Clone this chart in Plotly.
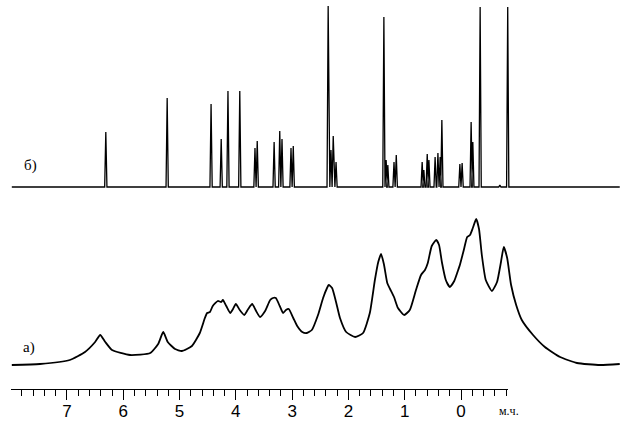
import plotly.graph_objects as go

a_ppm = [7.98, 7.48, 6.95, 6.68, 6.50, 6.41, 6.32, 6.20, 5.88, 5.52, 5.38, 5.29, 5.21, 5.08,
         4.96, 4.78, 4.64, 4.55, 4.51, 4.46, 4.41, 4.32, 4.26, 4.23, 4.17, 4.10, 4.05, 4.00,
         3.93, 3.85, 3.78, 3.71, 3.64, 3.57, 3.48, 3.39, 3.34, 3.29, 3.22, 3.16, 3.11, 3.06,
         2.98, 2.91, 2.82, 2.74, 2.65, 2.54, 2.45, 2.38, 2.35, 2.29, 2.22, 2.15, 2.04, 1.88,
         1.74, 1.62, 1.53, 1.47, 1.42, 1.37, 1.31, 1.26, 1.19, 1.12, 1.01, 0.91, 0.80, 0.71,
         0.64, 0.59, 0.52, 0.44, 0.39, 0.34, 0.27, 0.20, 0.12, 0.05, 0.02, -0.05, -0.11,
         -0.16, -0.21, -0.27, -0.32, -0.37, -0.44, -0.55, -0.64, -0.71, -0.76, -0.82, -0.89,
         -0.98, -1.08, -1.28, -1.49, -1.76, -2.06, -2.47, -2.82]
a_int = [0, 1, 5, 13, 23, 30, 23, 15, 10, 12, 21, 33, 23, 16,
         14, 19, 32, 47, 52, 53, 59, 64, 63, 65, 59, 52, 56, 61,
         55, 50, 56, 61, 54, 48, 54, 65, 67, 67, 59, 52, 55, 56,
         47, 39, 33, 32, 35, 50, 67, 77, 80, 77, 63, 47, 33, 28,
         32, 52, 85, 103, 111, 101, 82, 76, 68, 57, 50, 55, 75, 90,
         95, 102, 119, 125, 120, 103, 85, 78, 84, 95, 100, 115, 128,
         130, 137, 146, 136, 110, 85, 74, 83, 103, 118, 107, 80,
         60, 45, 30, 18, 8, 2, 0, 1]

# ---- spectrum (б): resolved lines (ppm, relative intensity) ----
b_ppm = [6.31, 5.22, 4.44, 4.26, 4.14, 3.93, 3.66, 3.62, 3.32, 3.22, 3.18, 3.02, 2.98,
         2.36, 2.31, 2.27, 2.22, 1.37, 1.33, 1.30, 1.19, 1.15, 0.69, 0.66, 0.60, 0.57,
         0.46, 0.41, 0.37, 0.34, 0.02, -0.02, -0.18, -0.21, -0.34, -0.69, -0.83]
b_int = [55, 89, 83, 48, 96, 96, 39, 46, 45, 56, 48, 39, 41,
         181, 37, 51, 25, 170, 27, 22, 25, 32, 25, 17, 33, 27,
         30, 34, 30, 67, 23, 24, 65, 45, 180, 2, 180]
b_limits = [7.98, -2.82]

# ---- axis ----
major_ticks = [7, 6, 5, 4, 3, 2, 1, 0]
major_labels = ["7", "6", "5", "4", "3", "2", "1", "0"]
minor_ticks = [round(7.8 - 0.2 * i, 1) for i in range(44)]
unit_label = "м.ч."

# build stick lines for spectrum (б)
half_w = 0.02
bx, by = [b_limits[0]], [0]
for p, h in zip(b_ppm, b_int):
    bx += [p + half_w, p, p - half_w]
    by += [0, h, 0]
bx.append(b_limits[1])
by.append(0)

fig = go.Figure()
fig.add_trace(go.Scatter(x=a_ppm, y=a_int, mode="lines", xaxis="x", yaxis="y",
                         line=dict(color="black", width=1.8, shape="spline", smoothing=0.5),
                         hoverinfo="skip"))
fig.add_trace(go.Scatter(x=bx, y=by, mode="lines", xaxis="x", yaxis="y2",
                         line=dict(color="black", width=1.3), hoverinfo="skip"))
fig.add_trace(go.Scatter(x=[None], y=[None], mode="lines", xaxis="x2", yaxis="y",
                         hoverinfo="skip", showlegend=False))

px_per_ppm = 56.29
zero_px = 461.0
W, H = 627, 432

fig.update_layout(
    width=W, height=H, margin=dict(l=0, r=0, t=0, b=0),
    paper_bgcolor="white", plot_bgcolor="rgba(0,0,0,0)", showlegend=False,
    xaxis=dict(domain=[0, 1], range=[zero_px / px_per_ppm, (zero_px - W) / px_per_ppm],
               visible=False),
    xaxis2=dict(domain=[(zero_px - 8.0 * px_per_ppm) / W, (zero_px + 0.84 * px_per_ppm) / W],
                range=[8.0, -0.84], anchor="free", position=1 - 389 / H,
                showline=True, linecolor="black", linewidth=1.2,
                showgrid=False, zeroline=False,
                tickmode="array", tickvals=major_ticks, ticktext=major_labels,
                ticks="outside", ticklen=10, tickwidth=1, tickcolor="black",
                ticklabelstandoff=-4,
                tickfont=dict(family="Liberation Sans, Arial, sans-serif", size=17, color="black"),
                minor=dict(tickmode="array", tickvals=minor_ticks, ticks="outside",
                           ticklen=6, tickwidth=1, tickcolor="black", showgrid=False),
                automargin=False),
    yaxis=dict(domain=[1 - 375 / H, 1 - 200 / H], range=[-10, 165], visible=False),
    yaxis2=dict(domain=[1 - 192 / H, 1 - 5 / H], range=[-5, 182], visible=False),
    annotations=[
        dict(text="б)", xref="paper", yref="paper", x=31 / W, y=1 - 165 / H,
             showarrow=False, xanchor="center", yanchor="middle",
             font=dict(family="Liberation Serif, Times New Roman, serif", size=15, color="black")),
        dict(text="а)", xref="paper", yref="paper", x=29 / W, y=1 - 347 / H,
             showarrow=False, xanchor="center", yanchor="middle",
             font=dict(family="Liberation Serif, Times New Roman, serif", size=15, color="black")),
        dict(text=unit_label, xref="paper", yref="paper", x=509 / W, y=1 - 411 / H,
             showarrow=False, xanchor="center", yanchor="middle",
             font=dict(family="Liberation Serif, Times New Roman, serif", size=12, color="black")),
    ],
)

fig.write_html("out.html", config={"displayModeBar": False},
               post_script="document.body.style.margin='0';document.body.style.overflow='hidden';")
